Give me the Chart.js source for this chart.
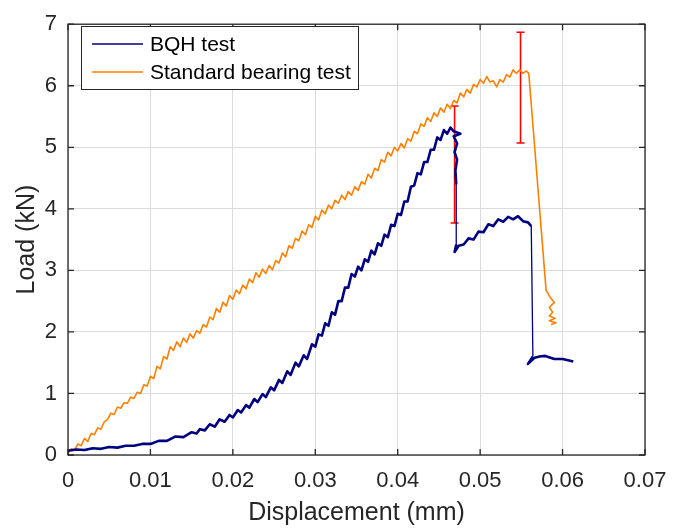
<!DOCTYPE html>
<html>
<head>
<meta charset="utf-8">
<script src="https://cdn.jsdelivr.net/npm/chart.js@4/dist/chart.umd.min.js"></script>
<style>
  html, body { margin: 0; padding: 0; background: #fff; }
  #wrap { width: 684px; height: 528px; position: relative; }
</style>
</head>
<body>
<div id="wrap"><canvas id="mainChart"></canvas></div>
<script>
// displacement (mm) / load (kN)
var stdX = [0.0000, 0.0004, 0.0008, 0.0012, 0.0016, 0.0020, 0.0024, 0.0028, 0.0032, 0.0036,
  0.0040, 0.0044, 0.0048, 0.0052, 0.0056, 0.0060, 0.0064, 0.0068, 0.0072, 0.0076,
  0.0080, 0.0084, 0.0088, 0.0092, 0.0096, 0.0100, 0.0104, 0.0108, 0.0112, 0.0116,
  0.0120, 0.0124, 0.0128, 0.0132, 0.0136, 0.0140, 0.0144, 0.0148, 0.0152, 0.0156,
  0.0160, 0.0164, 0.0168, 0.0172, 0.0176, 0.0180, 0.0184, 0.0188, 0.0192, 0.0196,
  0.0200, 0.0204, 0.0208, 0.0212, 0.0216, 0.0220, 0.0224, 0.0228, 0.0232, 0.0236,
  0.0240, 0.0244, 0.0248, 0.0252, 0.0256, 0.0260, 0.0264, 0.0268, 0.0272, 0.0276,
  0.0280, 0.0284, 0.0288, 0.0292, 0.0296, 0.0300, 0.0304, 0.0308, 0.0312, 0.0316,
  0.0320, 0.0324, 0.0328, 0.0332, 0.0336, 0.0340, 0.0344, 0.0348, 0.0352, 0.0356,
  0.0360, 0.0364, 0.0368, 0.0372, 0.0376, 0.0380, 0.0384, 0.0388, 0.0392, 0.0396,
  0.0400, 0.0404, 0.0408, 0.0412, 0.0416, 0.0420, 0.0424, 0.0428, 0.0432, 0.0436,
  0.0440, 0.0444, 0.0448, 0.0452, 0.0456, 0.0460, 0.0464, 0.0468, 0.0472, 0.0476,
  0.0480, 0.0484, 0.0488, 0.0492, 0.0496, 0.0500, 0.0504, 0.0508, 0.0512, 0.0516,
  0.0520, 0.0524, 0.0528, 0.0532, 0.0536, 0.0540, 0.0544, 0.0548, 0.0552, 0.0556,
  0.0559, 0.0580, 0.0585, 0.0590, 0.0584, 0.0588, 0.0584, 0.0591, 0.0584, 0.0592, 0.0586];
var stdY = [0.03, 0.10, 0.08, 0.18, 0.15, 0.27, 0.22, 0.35, 0.33, 0.44,
  0.42, 0.54, 0.58, 0.68, 0.66, 0.78, 0.76, 0.85, 0.84, 0.94,
  0.92, 1.02, 1.00, 1.14, 1.12, 1.28, 1.24, 1.44, 1.40, 1.60,
  1.56, 1.76, 1.70, 1.84, 1.76, 1.90, 1.83, 1.97, 1.90, 2.02,
  1.98, 2.12, 2.08, 2.24, 2.20, 2.38, 2.32, 2.48, 2.42, 2.59,
  2.53, 2.68, 2.62, 2.76, 2.70, 2.86, 2.80, 2.96, 2.89, 3.02,
  2.95, 3.08, 3.01, 3.16, 3.12, 3.28, 3.22, 3.40, 3.36, 3.52,
  3.48, 3.64, 3.58, 3.74, 3.70, 3.88, 3.82, 3.98, 3.92, 4.06,
  4.00, 4.14, 4.09, 4.22, 4.15, 4.28, 4.22, 4.36, 4.30, 4.44,
  4.40, 4.56, 4.50, 4.66, 4.62, 4.80, 4.76, 4.92, 4.86, 5.00,
  4.94, 5.06, 4.99, 5.14, 5.10, 5.26, 5.22, 5.38, 5.34, 5.48,
  5.42, 5.56, 5.50, 5.64, 5.57, 5.70, 5.63, 5.76, 5.72, 5.88,
  5.82, 5.94, 5.88, 6.02, 5.98, 6.10, 6.04, 6.15, 6.06, 6.08,
  5.98, 6.10, 6.06, 6.18, 6.14, 6.26, 6.20, 6.26, 6.20, 6.24,
  6.20, 2.68, 2.56, 2.48, 2.40, 2.32, 2.26, 2.22, 2.18, 2.15, 2.12];

var bqhX = [0.0000, 0.0010, 0.0020, 0.0030, 0.0040, 0.0050, 0.0060, 0.0070, 0.0080, 0.0090,
  0.0100, 0.0110, 0.0120, 0.0130, 0.0140, 0.0150, 0.0156, 0.0160, 0.0166, 0.0172,
  0.0178, 0.0184, 0.0190, 0.0196, 0.0200, 0.0206, 0.0210, 0.0216, 0.0220, 0.0226,
  0.0230, 0.0236, 0.0240, 0.0246, 0.0250, 0.0256, 0.0260, 0.0266, 0.0270, 0.0276,
  0.0280, 0.0286, 0.0290, 0.0296, 0.0300, 0.0304, 0.0308, 0.0312, 0.0316, 0.0320,
  0.0324, 0.0328, 0.0332, 0.0336, 0.0340, 0.0344, 0.0348, 0.0352, 0.0356, 0.0360,
  0.0364, 0.0368, 0.0372, 0.0376, 0.0380, 0.0384, 0.0388, 0.0392, 0.0396, 0.0400,
  0.0404, 0.0408, 0.0412, 0.0416, 0.0420, 0.0424, 0.0428, 0.0432, 0.0436, 0.0440,
  0.0444, 0.0448, 0.0452, 0.0456, 0.0460, 0.0464, 0.0468, 0.0476, 0.0468, 0.0472,
  0.0469, 0.0472, 0.0470, 0.0471, 0.0471, 0.0469, 0.0474, 0.0480, 0.0486, 0.0492,
  0.0498, 0.0504, 0.0510, 0.0516, 0.0522, 0.0528, 0.0534, 0.0540, 0.0546, 0.0552,
  0.0558, 0.0562, 0.0564, 0.0558, 0.0566, 0.0572, 0.0579, 0.0590, 0.0600, 0.0613];
var bqhY = [0.07, 0.09, 0.08, 0.11, 0.10, 0.13, 0.12, 0.15, 0.15, 0.18,
  0.18, 0.23, 0.23, 0.30, 0.29, 0.37, 0.35, 0.42, 0.40, 0.50,
  0.46, 0.58, 0.54, 0.65, 0.61, 0.73, 0.69, 0.81, 0.77, 0.91,
  0.86, 0.99, 0.94, 1.10, 1.05, 1.22, 1.17, 1.36, 1.30, 1.50,
  1.44, 1.62, 1.56, 1.80, 1.76, 1.96, 1.94, 2.14, 2.10, 2.32,
  2.28, 2.50, 2.50, 2.72, 2.72, 2.94, 2.90, 3.06, 3.00, 3.18,
  3.14, 3.32, 3.26, 3.44, 3.40, 3.58, 3.54, 3.74, 3.72, 3.92,
  3.90, 4.12, 4.12, 4.36, 4.38, 4.58, 4.56, 4.76, 4.76, 4.96,
  4.96, 5.16, 5.12, 5.28, 5.22, 5.32, 5.26, 5.22, 5.18, 5.06,
  4.92, 4.80, 4.62, 4.40, 3.42, 3.30, 3.40, 3.42, 3.52, 3.50,
  3.63, 3.62, 3.75, 3.72, 3.83, 3.79, 3.87, 3.83, 3.88, 3.80,
  3.78, 3.72, 1.60, 1.48, 1.58, 1.60, 1.61, 1.56, 1.56, 1.52];

// error bars at the two peaks
var errX = [0.0469, 0.0549];
var errLo = [3.77, 5.07];
var errHi = [5.67, 6.87];

var xTicks = [0, 0.01, 0.02, 0.03, 0.04, 0.05, 0.06, 0.07];
var yTicks = [0, 1, 2, 3, 4, 5, 6, 7];

var legendItems = [
  { label: 'BQH test', color: '#000080' },
  { label: 'Standard bearing test', color: '#ff8000' }
];

var FONT = '"Liberation Sans", Arial, Helvetica, sans-serif';

function pts(xs, ys) {
  return xs.map(function (x, i) { return { x: x, y: ys[i] }; });
}

var datasets = [
  {
    label: 'BQH test',
    data: pts(bqhX, bqhY),
    borderColor: '#000080',
    borderWidth: 2.4,
    borderJoinStyle: 'round',
    segment: {
      borderWidth: function (ctx) {
        return Math.abs(ctx.p1.y - ctx.p0.y) > 25 ? 1.3 : 2.6;
      }
    }
  },
  {
    label: 'Standard bearing test',
    data: pts(stdX, stdY),
    borderColor: '#ff8000',
    borderWidth: 1.6,
    borderJoinStyle: 'round'
  }
];

errX.forEach(function (x, i) {
  datasets.push({
    label: 'err' + i,
    data: [{ x: x, y: errLo[i] }, { x: x, y: errHi[i] }],
    borderColor: '#ff0000',
    borderWidth: 1.6,
    pointStyle: 'line',
    pointRadius: 4,
    pointBorderColor: '#ff0000',
    pointBorderWidth: 1.6
  });
});

datasets.forEach(function (d) {
  d.showLine = true;
  d.fill = false;
  d.tension = 0;
  if (d.pointRadius == null) d.pointRadius = 0;
});

var framePlugin = {
  id: 'frame',
  afterDraw: function (chart) {
    var ctx = chart.ctx;
    var a = chart.chartArea;
    var xs = chart.scales.x, ys = chart.scales.y;
    ctx.save();

    // box + inward ticks
    ctx.strokeStyle = '#262626';
    ctx.lineWidth = 1.3;
    ctx.strokeRect(a.left, a.top, a.right - a.left, a.bottom - a.top);
    ctx.beginPath();
    xTicks.forEach(function (v) {
      var px = xs.getPixelForValue(v);
      ctx.moveTo(px, a.bottom); ctx.lineTo(px, a.bottom - 6);
      ctx.moveTo(px, a.top); ctx.lineTo(px, a.top + 6);
    });
    yTicks.forEach(function (v) {
      var py = ys.getPixelForValue(v);
      ctx.moveTo(a.left, py); ctx.lineTo(a.left + 6, py);
      ctx.moveTo(a.right, py); ctx.lineTo(a.right - 6, py);
    });
    ctx.stroke();

    // axis titles
    ctx.fillStyle = '#262626';
    ctx.font = '25px ' + FONT;
    ctx.textAlign = 'center';
    ctx.textBaseline = 'alphabetic';
    ctx.fillText('Displacement (mm)', (a.left + a.right) / 2, 520);
    ctx.save();
    ctx.translate(34, (a.top + a.bottom) / 2);
    ctx.rotate(-Math.PI / 2);
    ctx.fillText('Load (kN)', 0, 0);
    ctx.restore();

    // legend box
    var bx = 81, by = 26, bw = 277, bh = 63;
    ctx.fillStyle = '#ffffff';
    ctx.fillRect(bx, by, bw, bh);
    ctx.strokeStyle = '#262626';
    ctx.lineWidth = 1;
    ctx.strokeRect(bx + 0.5, by + 0.5, bw, bh);
    ctx.font = '21px ' + FONT;
    ctx.textAlign = 'left';
    ctx.textBaseline = 'middle';
    legendItems.forEach(function (it, i) {
      var ly = 44 + i * 28;
      ctx.strokeStyle = it.color;
      ctx.lineWidth = 1.6;
      ctx.beginPath();
      ctx.moveTo(92, ly); ctx.lineTo(143, ly);
      ctx.stroke();
      ctx.fillStyle = '#000000';
      ctx.fillText(it.label, 150, ly + 1);
    });
    ctx.restore();
  }
};

new Chart(document.getElementById('mainChart').getContext('2d'), {
  type: 'scatter',
  data: { datasets: datasets },
  options: {
    responsive: true,
    maintainAspectRatio: false,
    animation: false,
    layout: { padding: { top: 12, right: 39, left: 0, bottom: 0 } },
    plugins: { legend: { display: false }, tooltip: { enabled: false } },
    scales: {
      x: {
        type: 'linear',
        min: 0, max: 0.07,
        afterBuildTicks: function (s) { s.ticks = xTicks.map(function (v) { return { value: v }; }); },
        afterFit: function (s) { s.height = 73; },
        ticks: {
          padding: 13,
          color: '#262626',
          font: { size: 22, family: FONT },
          maxRotation: 0,
          callback: function (v) { return String(+v.toFixed(2)); }
        },
        grid: { color: '#dcdcdc', lineWidth: 1, drawTicks: false },
        border: { display: false }
      },
      y: {
        type: 'linear',
        min: 0, max: 7,
        afterBuildTicks: function (s) { s.ticks = yTicks.map(function (v) { return { value: v }; }); },
        afterFit: function (s) { s.width = 68; },
        ticks: {
          padding: 11,
          color: '#262626',
          font: { size: 22, family: FONT },
          callback: function (v) { return String(v); }
        },
        grid: { color: '#dcdcdc', lineWidth: 1, drawTicks: false },
        border: { display: false }
      }
    }
  },
  plugins: [framePlugin]
});
</script>
</body>
</html>
